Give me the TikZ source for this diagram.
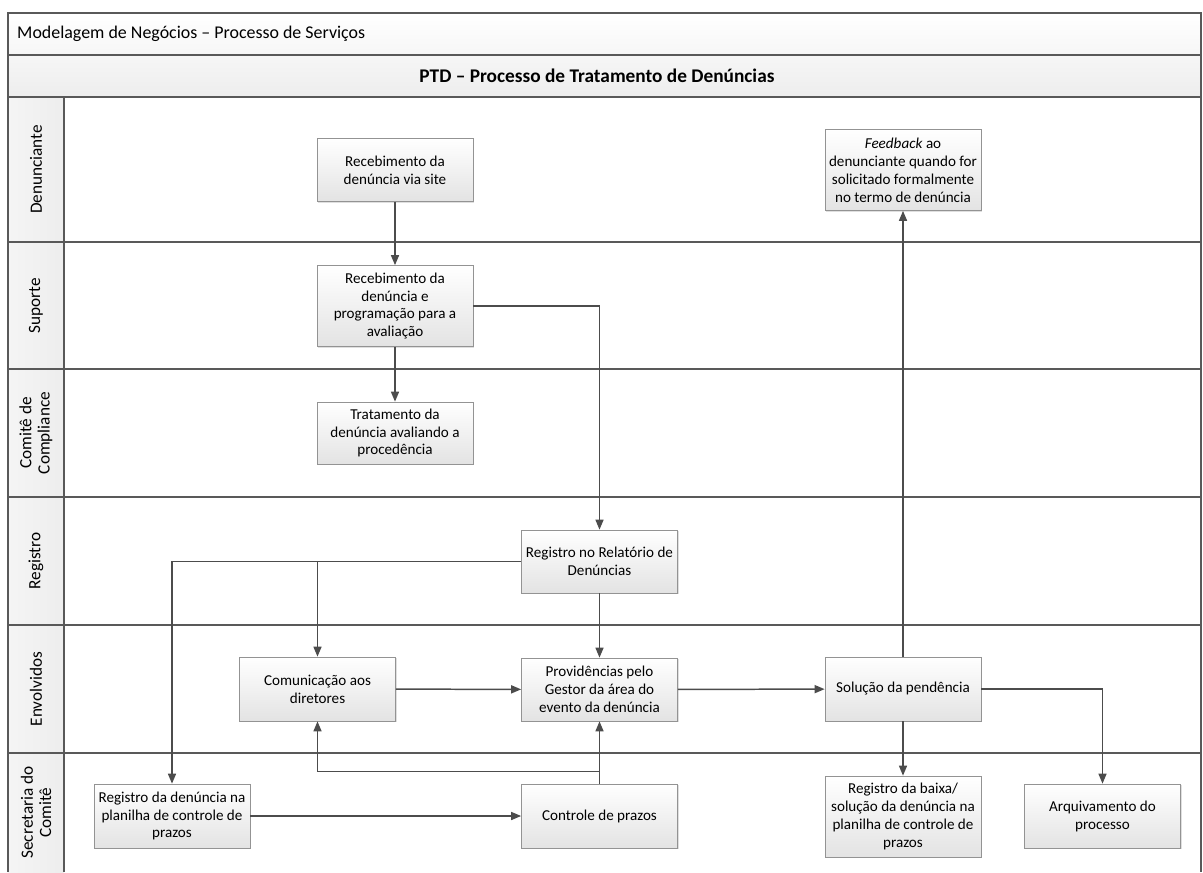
\documentclass[tikz,border=0pt]{standalone}
\usepackage{fontspec}
\setmainfont{Carlito}
\usetikzlibrary{arrows.meta,shadows}

\begin{document}
\begin{tikzpicture}[x=0.02cm, y=-0.02cm, every node/.style={align=center, font=\fontsize{8.6}{10.2}\selectfont}, >={Triangle[length=0.2cm,width=0.16cm]}]
    % estilos
    \tikzstyle{etapa} = [rectangle, draw=gray!85, top color=white, bottom color=gray!22, minimum width=3.12cm, inner sep=2pt, drop shadow={shadow xshift=0.6pt, shadow yshift=-0.8pt, opacity=0.25}]
    \tikzstyle{raia} = [rotate=90, font=\fontsize{9.8}{10.4}\selectfont]
    \tikzstyle{linha} = [draw=gray!70!black, line width=0.75pt]
    \tikzstyle{arrow} = [line width=0.85pt, draw=black!70, ->]

    \useasboundingbox (0,0) rectangle (1203,872);

    % moldura e raias
    \fill[top color=white, bottom color=gray!14] (8,13) rectangle (1201,97);
    \fill[left color=gray!8, right color=gray!14] (8,97) rectangle (64,872);
    \draw[linha] (8,872) -- (8,13) -- (1201,13) -- (1201,872);
    \draw[linha] (8,55) -- (1201,55);
    \draw[linha] (8,97) -- (1201,97);
    \draw[linha] (64,97) -- (64,872);
    \foreach \y in {242,369,497,625,753}
        \draw[linha] (8,\y) -- (1201,\y);

    \node[anchor=west, font=\fontsize{10.2}{11}\selectfont] (T1) at (11,34) {Modelagem de Negócios – Processo de Serviços};
    \node[font=\fontsize{11}{12}\selectfont\bfseries] (T2) at (597,76) {PTD – Processo de Tratamento de Denúncias};

    \node[raia] (R1) at (36,169.5) {Denunciante};
    \node[raia] (R2) at (36,305.5) {Suporte};
    \node[raia] (R3) at (36,433) {Comitê de\\Compliance};
    \node[raia] (R4) at (36,561) {Registro};
    \node[raia] (R5) at (36,689) {Envolvidos};
    \node[raia] (R6) at (36,812.5) {Secretaria do\\Comitê};

    % etapas
    \node[etapa, minimum height=1.26cm] (A) at (395,170) {Recebimento da\\denúncia via site};
    \node[etapa, minimum height=1.62cm] (B) at (395,306) {Recebimento da\\denúncia e\\programação para a\\avaliação};
    \node[etapa, minimum height=1.24cm] (C) at (395,433) {Tratamento da\\denúncia avaliando a\\procedência};
    \node[etapa, minimum height=1.62cm] (D) at (903,170) {\textit{Feedback} ao\\denunciante quando for\\solicitado formalmente\\no termo de denúncia};
    \node[etapa, minimum height=1.26cm] (E) at (599.5,561.5) {Registro no Relatório de\\Denúncias};
    \node[etapa, minimum height=1.28cm] (F) at (317.5,689) {Comunicação aos\\diretores};
    \node[etapa, minimum height=1.26cm] (G) at (599.5,689.5) {Providências pelo\\Gestor da área do\\evento da denúncia};
    \node[etapa, minimum height=1.28cm] (H) at (903,689) {Solução da pendência};
    \node[etapa, minimum height=1.28cm] (I) at (172,816) {Registro da denúncia na\\planilha de controle de\\prazos};
    \node[etapa, minimum height=1.28cm] (J) at (599.5,816) {Controle de prazos};
    \node[etapa, minimum height=1.62cm] (K) at (903,816.5) {Registro da baixa/\\solução da denúncia na\\planilha de controle de\\prazos};
    \node[etapa, minimum height=1.28cm] (L) at (1102.5,816) {Arquivamento do\\processo};

    % setas
    \draw[arrow] (A) -- (B);
    \draw[arrow] (B) -- (C);
    \draw[arrow] (B.east) -| (E.north);
    \draw[arrow] (E.west) -| (I.north);
    \draw[arrow] (E.west) -| (F.north);
    \draw[arrow] (E) -- (G);
    \draw[arrow] (F) -- (G);
    \draw[arrow] (G) -- (H);
    \draw[arrow] (J) -- (G);
    \draw[arrow] (J.north) -- ++(0,-12) -| (F.south);
    \draw[arrow] (I) -- (J);
    \draw[arrow] (H) -- (D);
    \draw[arrow] (H) -- (K);
    \draw[arrow] (H.east) -| (L.north);
\end{tikzpicture}
\end{document}
